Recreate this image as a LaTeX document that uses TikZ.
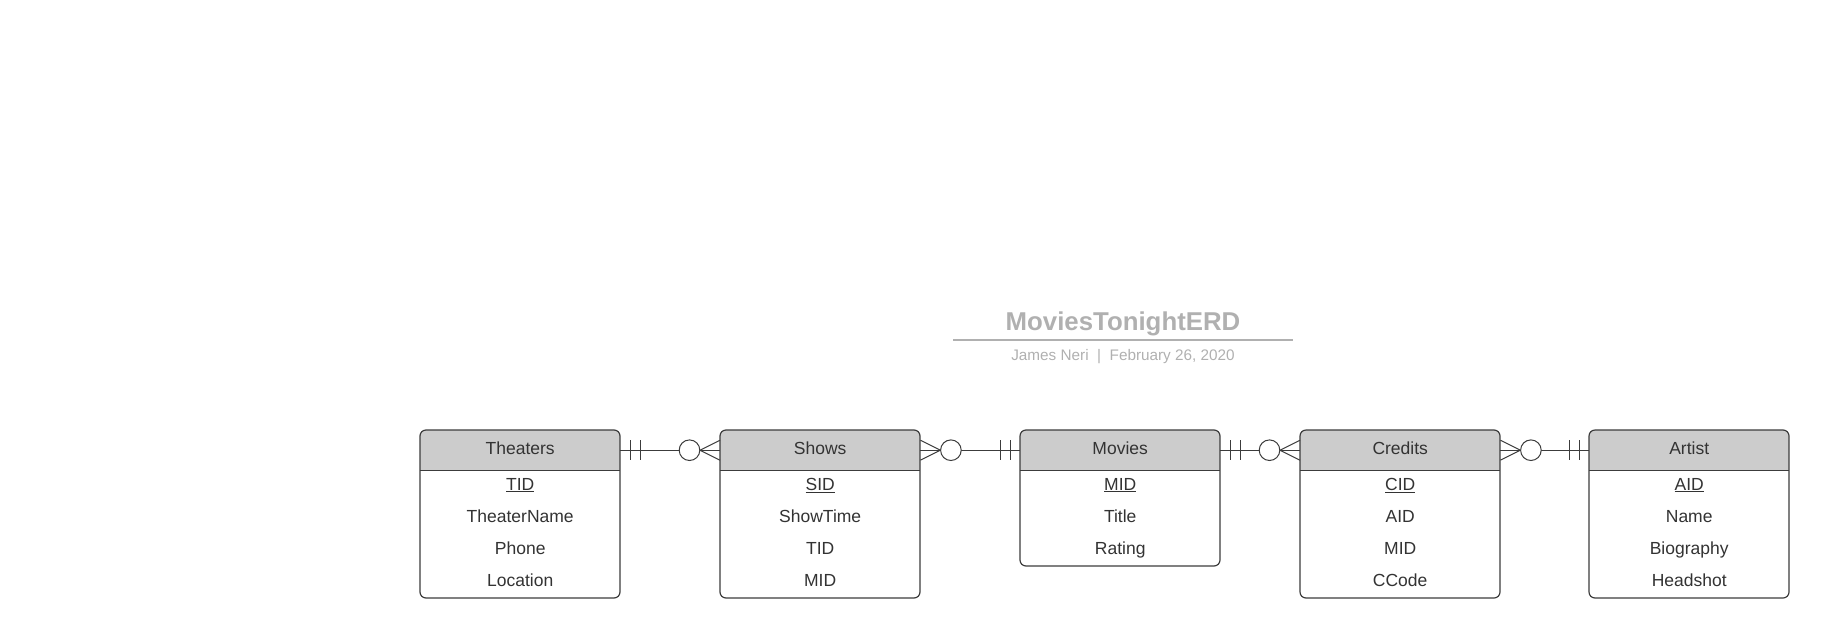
\documentclass[tikz,border=0pt]{standalone}
\usepackage{fontspec}
\setmainfont{Liberation Sans}
\usetikzlibrary{positioning, calc}
\definecolor{erdline}{HTML}{3C3C3C}
\definecolor{erdhead}{HTML}{CCCCCC}
\definecolor{erdtext}{HTML}{333333}
\definecolor{erdtitle}{HTML}{B0B0B0}

\tikzset{
    headbox/.style={fill=erdhead, text=erdtext, minimum width=200, minimum height=40,
        inner sep=0, font=\fontsize{17.5}{20}\selectfont, text height=8.5, text depth=0},
    attr/.style={text=erdtext, inner sep=0, font=\fontsize{17.5}{20}\selectfont,
        text height=12.5, text depth=0},
    link/.style={draw=erdline, line width=1},
}

% entity box: name, x centre, title, number of rows, rows
\newcommand{\erdentity}[5]{%
    \coordinate (#1-nw) at (#2-100, 430);
    \coordinate (#1-se) at (#2+100, {470+32*#4});
    \begin{scope}
        \clip[rounded corners=6] (#1-nw) rectangle (#1-se);
        \fill[white] (#1-nw) rectangle (#1-se);
        \node[headbox, anchor=north west] (#1) at (#1-nw) {#3};
    \end{scope}
    \draw[erdline, line width=1.2, rounded corners=6] (#1-nw) rectangle (#1-se);
    \draw[erdline, line width=1.2] (#1.south west) -- (#1.south east);
    \foreach \attrname [count=\i] in {#5}
        \node[attr] (#1-\i) at ($(#1.south)+(0,{13.5+32*(\i-1)})$) {\attrname};
}
% "exactly one" end: anchor, direction
\newcommand{\onemark}[2]{%
    \foreach \d in {10,20}
        \draw[link] ($(#1)+(#2*\d,-10)$) -- ++(0,20);
}
% "zero or many" end: anchor, direction
\newcommand{\manymark}[2]{%
    \draw[link] ($(#1)+(#2*20,0)$) -- ($(#1)+(0,-10)$)
                ($(#1)+(#2*20,0)$) -- ($(#1)+(0,10)$);
    \draw[link, fill=white] ($(#1)+(#2*30.5,0)$) circle[radius=10.3pt];
}

\begin{document}
\begin{tikzpicture}[x=1pt, y=-1pt]
    \useasboundingbox (0, 0) rectangle (1829, 638);

    \node[anchor=base, text=erdtitle, font=\fontsize{25.8}{30}\selectfont\bfseries] (title) at (1123, 330) {MoviesTonightERD};
    \draw[erdtitle, line width=1.5] (953, 340) -- (1293, 340);
    \node[anchor=base, text=erdtitle, font=\fontsize{15.3}{18}\selectfont] (subtitle) at (1123, 360) {James Neri~~|~~February 26, 2020};

    \erdentity{theaters}{520}{Theaters}{4}{\underline{TID}, TheaterName, Phone, Location}
    \erdentity{shows}{820}{Shows}{4}{\underline{SID}, ShowTime, TID, MID}
    \erdentity{movies}{1120}{Movies}{3}{\underline{MID}, Title, Rating}
    \erdentity{credits}{1400}{Credits}{4}{\underline{CID}, AID, MID, CCode}
    \erdentity{artist}{1689}{Artist}{4}{\underline{AID}, Name, Biography, Headshot}

    \draw[link] (theaters.east) -- (shows.west);
    \draw[link] (shows.east) -- (movies.west);
    \draw[link] (movies.east) -- (credits.west);
    \draw[link] (credits.east) -- (artist.west);

    \onemark{theaters.east}{1}
    \manymark{shows.west}{-1}
    \manymark{shows.east}{1}
    \onemark{movies.west}{-1}
    \onemark{movies.east}{1}
    \manymark{credits.west}{-1}
    \manymark{credits.east}{1}
    \onemark{artist.west}{-1}
\end{tikzpicture}
\end{document}
